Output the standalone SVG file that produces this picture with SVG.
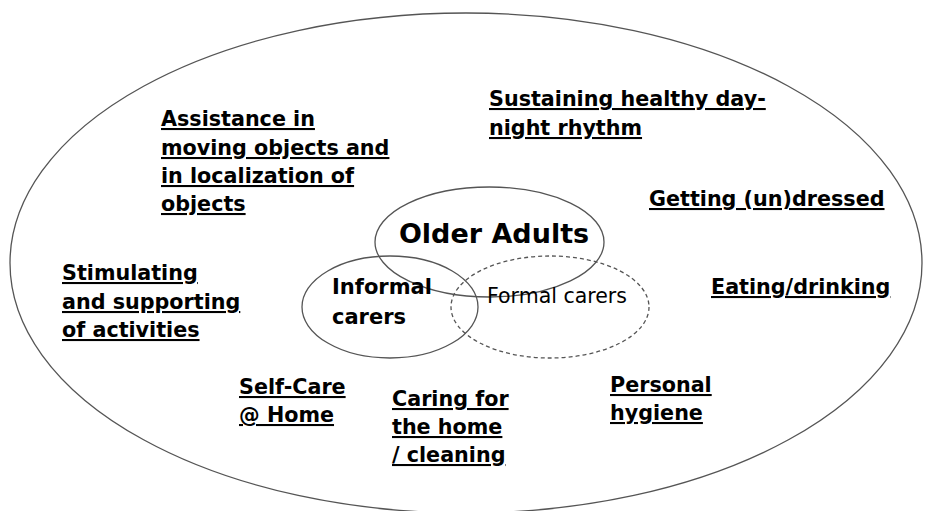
<svg xmlns="http://www.w3.org/2000/svg" width="925" height="511" viewBox="0 0 925 511">
<style>
.t{font-family:"DejaVu Sans",Verdana,sans-serif;font-weight:bold;font-size:20.7px;fill:#000;text-decoration:underline}
.c{font-family:"DejaVu Sans",Verdana,sans-serif;font-weight:bold;font-size:21px;fill:#000}
.f{font-family:"DejaVu Sans",Verdana,sans-serif;font-size:20.5px;fill:#000}
.o{font-family:"DejaVu Sans",Verdana,sans-serif;font-weight:bold;font-size:27px;fill:#000}
.e{fill:none;stroke:#555;stroke-width:1.3}
</style>
<rect width="925" height="511" fill="#fff"/>
<g id="outer"><ellipse class="e" cx="466" cy="263" rx="456" ry="250"/></g>
<g id="older-adults"><ellipse class="e" cx="489.5" cy="242" rx="114.5" ry="55"/><text class="o" x="494" y="243" text-anchor="middle">Older Adults</text></g>
<g id="informal-carers"><ellipse class="e" cx="390" cy="307" rx="88" ry="51"/><text class="c" x="332" y="294">Informal</text><text class="c" x="332" y="324">carers</text></g>
<g id="formal-carers"><ellipse class="e" cx="550" cy="307" rx="99" ry="51" stroke-dasharray="4,3"/><text class="f" x="487" y="303">Formal carers</text></g>
<g id="sustaining"><text class="t" x="489" y="106">Sustaining healthy day-</text><text class="t" x="489" y="135">night rhythm</text></g>
<g id="assistance"><text class="t" x="161" y="126">Assistance in</text><text class="t" x="161" y="155">moving objects and</text><text class="t" x="161" y="183">in localization of</text><text class="t" x="161" y="211">objects</text></g>
<g id="getting-dressed"><text class="t" x="649" y="206">Getting (un)dressed</text></g>
<g id="eating"><text class="t" x="711" y="294">Eating/drinking</text></g>
<g id="stimulating"><text class="t" x="62" y="280">Stimulating</text><text class="t" x="62" y="309">and supporting</text><text class="t" x="62" y="337">of activities</text></g>
<g id="self-care"><text class="t" x="239" y="394">Self-Care</text><text class="t" x="239" y="422">@ Home</text></g>
<g id="caring-home"><text class="t" x="392" y="406">Caring for</text><text class="t" x="392" y="434">the home</text><text class="t" x="392" y="462">/ cleaning</text></g>
<g id="personal-hygiene"><text class="t" x="610" y="392">Personal</text><text class="t" x="610" y="420">hygiene</text></g>
<g id="connectors"></g>
</svg>
